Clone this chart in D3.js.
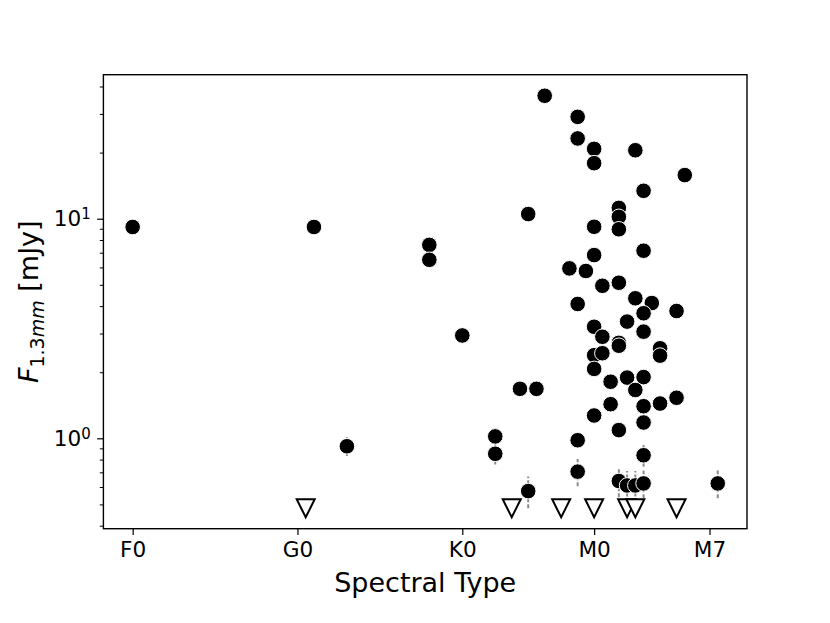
<!DOCTYPE html>
<html>
<head>
<meta charset="utf-8">
<script src="https://cdn.jsdelivr.net/npm/d3@7"></script>
<style>
  body { margin: 0; background: #fff; }
  text { font-family: "DejaVu Sans", sans-serif; }
</style>
</head>
<body>
<script>
// spectral type as a number: F0 = 0, G0 = 10, K0 = 20, M0 = 28, M7 = 35
const spType = [0, 11, 13, 18, 18, 20, 22, 22, 23.5, 24.5, 24, 24, 25, 27, 27, 28, 28, 30.5, 33.5, 31,
  29.5, 29.5, 28, 29.5, 31, 28, 26.5, 27.5, 29.5, 28.5, 27, 30.5, 31.5, 31, 33, 30, 28, 31, 28.5, 29.5,
  29.5, 32, 32, 28, 28.5, 28, 29, 30, 31, 30.5, 29, 31, 32, 33, 28, 31, 29.5, 27, 31, 27,
  29.5, 30, 30.5, 31, 35.5];
const flux = [9.17, 9.17, 0.92, 7.6, 6.5, 2.94, 1.02, 0.85, 1.68, 1.68, 10.5, 0.575, 36.3, 29.1, 23.2, 20.8, 17.9, 20.5, 15.8, 13.4,
  11.2, 10.2, 9.19, 8.95, 7.15, 6.83, 5.94, 5.78, 5.11, 4.95, 4.09, 4.34, 4.13, 3.71, 3.8, 3.4, 3.22, 3.06, 2.9, 2.72,
  2.64, 2.57, 2.38, 2.39, 2.44, 2.07, 1.81, 1.89, 1.9, 1.66, 1.43, 1.4, 1.44, 1.53, 1.27, 1.18, 1.09, 0.98, 0.837, 0.705,
  0.639, 0.61, 0.61, 0.623, 0.623];
const fluxErr = [0.1, 0.1, 0.09, 0.1, 0.1, 0.1, 0.07, 0.09, 0.1, 0.1, 0.1, 0.095, 0.1, 0.1, 0.1, 0.1, 0.1, 0.1, 0.1, 0.1,
  0.1, 0.1, 0.1, 0.1, 0.1, 0.1, 0.1, 0.1, 0.1, 0.1, 0.1, 0.1, 0.1, 0.1, 0.1, 0.1, 0.1, 0.1, 0.1, 0.1,
  0.1, 0.1, 0.1, 0.1, 0.1, 0.1, 0.1, 0.1, 0.1, 0.1, 0.1, 0.1, 0.1, 0.1, 0.08, 0.08, 0.08, 0.07, 0.095, 0.1,
  0.1, 0.1, 0.1, 0.09, 0.09];
// upper limits (non-detections)
const limitType = [10.5, 23, 26, 28, 30, 30.5, 33];
const limitFlux = [0.48, 0.48, 0.48, 0.48, 0.48, 0.48, 0.48];

const xTicks = [0, 10, 20, 28, 35];
const xTickLabels = ["F0", "G0", "K0", "M0", "M7"];
const yMajor = [1, 10];
const yMinor = [0.4, 0.5, 0.6, 0.7, 0.8, 0.9, 2, 3, 4, 5, 6, 7, 8, 9, 20, 30, 40];

const width = 830, height = 623;
const plotLeft = 103.4, plotRight = 747, plotTop = 74.7, plotBottom = 528.7;

const svg = d3.select("body").append("svg")
    .attr("width", width)
    .attr("height", height);

const x = d3.scaleLinear().domain([-1.775, 37.275]).range([plotLeft, plotRight]);
const y = d3.scaleLog().domain([0.3876, 45.27]).range([plotBottom, plotTop]);

const points = spType.map((t, i) => ({ t: t, f: flux[i], e: fluxErr[i] }));
const limits = limitType.map((t, i) => ({ t: t, f: limitFlux[i] }));

// error bars
svg.append("g").selectAll("line")
    .data(points)
    .enter().append("line")
    .attr("x1", d => x(d.t))
    .attr("x2", d => x(d.t))
    .attr("y1", d => y(Math.max(d.f - d.e, 0.01)))
    .attr("y2", d => y(d.f + d.e))
    .attr("stroke", "#8c8c8c")
    .attr("stroke-width", 2)
    .attr("stroke-dasharray", "4,2");

// detections
svg.append("g").selectAll("circle")
    .data(points)
    .enter().append("circle")
    .attr("cx", d => x(d.t))
    .attr("cy", d => y(d.f))
    .attr("r", 7.8)
    .attr("fill", "black")
    .attr("stroke", "white")
    .attr("stroke-width", 1);

// upper limits
const tri = 9;
svg.append("g").selectAll("path")
    .data(limits)
    .enter().append("path")
    .attr("transform", d => `translate(${x(d.t)},${y(d.f)})`)
    .attr("d", `M${-tri},${-tri}L${tri},${-tri}L0,${tri}Z`)
    .attr("fill", "white")
    .attr("stroke", "black")
    .attr("stroke-width", 2)
    .attr("stroke-linejoin", "miter");

// x axis
const xAxis = svg.append("g")
    .attr("transform", `translate(0,${plotBottom})`)
    .call(d3.axisBottom(x).tickValues(xTicks)
        .tickFormat((d, i) => xTickLabels[i])
        .tickSize(6.3).tickPadding(6.3));
xAxis.select(".domain").remove();
xAxis.selectAll("line").attr("stroke-width", 1.2);
xAxis.selectAll("text").attr("font-size", 21.6).attr("fill", "black")
    .attr("font-family", "DejaVu Sans");

// y axis
const yAxis = svg.append("g")
    .attr("transform", `translate(${plotLeft},0)`)
    .call(d3.axisLeft(y).tickValues(yMajor).tickSize(6.3).tickPadding(6.3));
yAxis.select(".domain").remove();
yAxis.selectAll("line").attr("stroke-width", 1.2);
yAxis.selectAll("text")
    .attr("font-size", 21.6)
    .attr("fill", "black")
    .attr("font-family", "DejaVu Sans")
    .each(function (d) {
        const t = d3.select(this).text(null);
        t.append("tspan").text("10");
        t.append("tspan").attr("dy", "-0.45em").attr("font-size", 15).text(Math.round(Math.log10(d)));
    });

const yMinorAxis = svg.append("g")
    .attr("transform", `translate(${plotLeft},0)`)
    .call(d3.axisLeft(y).tickValues(yMinor).tickSize(3.6).tickFormat(""));
yMinorAxis.select(".domain").remove();
yMinorAxis.selectAll("line").attr("stroke-width", 1);

// frame
svg.append("rect")
    .attr("x", plotLeft)
    .attr("y", plotTop)
    .attr("width", plotRight - plotLeft)
    .attr("height", plotBottom - plotTop)
    .attr("fill", "none")
    .attr("stroke", "black")
    .attr("stroke-width", 1.4);

// axis labels
svg.append("text")
    .attr("x", (plotLeft + plotRight) / 2)
    .attr("y", 592)
    .attr("text-anchor", "middle")
    .attr("font-size", 27)
    .text("Spectral Type");

const yLabel = svg.append("text")
    .attr("transform", `translate(38,${(plotTop + plotBottom) / 2}) rotate(-90)`)
    .attr("text-anchor", "middle")
    .attr("font-size", 27);
yLabel.append("tspan").attr("font-style", "italic").text("F");
yLabel.append("tspan").attr("font-size", 19).attr("dy", "0.3em").text("1.3");
yLabel.append("tspan").attr("font-size", 19).attr("font-style", "italic").text("mm");
yLabel.append("tspan").attr("dy", "-0.22em").text(" [mJy]");
</script>
</body>
</html>
